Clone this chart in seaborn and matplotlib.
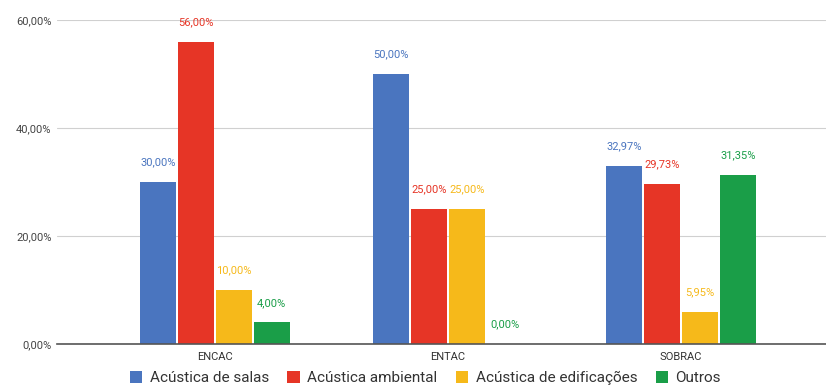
import matplotlib
matplotlib.use("Agg")
import matplotlib.pyplot as plt
import seaborn as sns
import pandas as pd
from matplotlib.patches import Patch

categories = ["ENCAC", "ENTAC", "SOBRAC"]
series = ["Acústica de salas", "Acústica ambiental", "Acústica de edificações", "Outros"]
salas = [30.00, 50.00, 32.97]
ambiental = [56.00, 25.00, 29.73]
edificacoes = [10.00, 25.00, 5.95]
outros = [4.00, 0.00, 31.35]
yticks = [0, 20, 40, 60]
colors = ["#4a75bf", "#e63526", "#f6b91a", "#1a9e48"]

rows = []
for s, vals in zip(series, [salas, ambiental, edificacoes, outros]):
    for c, v in zip(categories, vals):
        rows.append({"cat": c, "serie": s, "val": v})
df = pd.DataFrame(rows)

sns.set_theme(style="white")
plt.rcParams["font.family"] = ["Roboto", "DejaVu Sans"]

fig = plt.figure(figsize=(8.26, 3.88), dpi=100)
ax = fig.add_axes([0.069, 0.1134, 0.931, 0.8346])

sns.barplot(data=df, x="cat", y="val", hue="serie", order=categories, hue_order=series,
            palette=colors, width=0.65, gap=0.05, ax=ax, legend=False, saturation=1,
            linewidth=0)

for cont, col in zip(ax.containers, colors):
    labels = [f"{v:.2f}".replace(".", ",") + "%" for v in cont.datavalues]
    for bar, lab in zip(cont, labels):
        ax.annotate(lab, (bar.get_x() + bar.get_width() / 2, bar.get_height()),
                    xytext=(0, 14), textcoords="offset points", ha="center", va="center",
                    fontsize=8, color=col)

ax.set_xlim(-0.678, 2.622)
ax.set_ylim(0, 60)
ax.set_yticks(yticks)
ax.set_yticklabels([f"{t:.2f}".replace(".", ",") + "%" for t in yticks], fontsize=8, color="#444444")
ax.tick_params(axis="x", labelsize=8, colors="#333333", length=0, pad=6)
ax.tick_params(axis="y", length=0, pad=4)
ax.set_xlabel("")
ax.set_ylabel("")
ax.grid(axis="y", color="#d0d0d0", linewidth=0.8)
ax.set_axisbelow(True)
for sp in ["top", "right", "left"]:
    ax.spines[sp].set_visible(False)
ax.spines["bottom"].set_color("#555555")
ax.spines["bottom"].set_linewidth(1.2)
ax.spines["bottom"].set_zorder(5)

handles = [Patch(facecolor=c, edgecolor="none") for c in colors]
fig.legend(handles, series, loc="center", bbox_to_anchor=(0.515, 0.025), ncol=4, frameon=False,
           fontsize=11, handlelength=0.8, handleheight=0.8, handletextpad=0.5, columnspacing=1.2,
           labelcolor="#333333")

fig.savefig("out.png", dpi=100)
